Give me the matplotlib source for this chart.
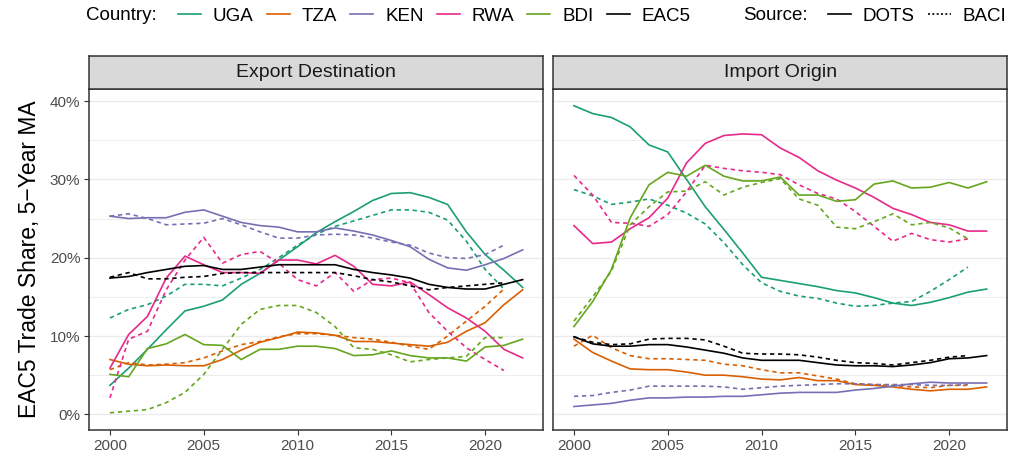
import numpy as np
import matplotlib.pyplot as plt
from matplotlib.lines import Line2D
from matplotlib.ticker import MultipleLocator, FuncFormatter

plt.rcParams['font.family'] = ['Liberation Sans', 'DejaVu Sans']

#%% data (share in %, 5-year moving average)
years_dots = np.arange(2000, 2023)
years_baci = np.arange(2000, 2022)

countries = ['UGA', 'TZA', 'KEN', 'RWA', 'BDI', 'EAC5']
colors = ['#1B9E77', '#D95F02', '#7570B3', '#E7298A', '#66A61E', '#000000']

# Export destination - DOTS
exp_dots_uga = [3.7, 5.9, 8.3, 10.8, 13.2, 13.8, 14.6, 16.6, 18.0, 19.7, 21.4, 23.2, 24.6, 25.9, 27.3, 28.2, 28.3, 27.7, 26.8, 23.3, 20.4, 18.4, 16.2]
exp_dots_tza = [7.0, 6.4, 6.2, 6.3, 6.2, 6.2, 7.0, 8.2, 9.2, 9.8, 10.5, 10.4, 10.1, 9.3, 9.3, 9.1, 8.9, 8.7, 9.2, 10.6, 11.7, 14.0, 15.9]
exp_dots_ken = [25.3, 25.0, 25.1, 25.1, 25.8, 26.1, 25.3, 24.5, 24.1, 23.9, 23.3, 23.3, 23.8, 23.4, 22.9, 22.2, 21.4, 19.8, 18.7, 18.4, 19.1, 19.9, 21.0]
exp_dots_rwa = [5.9, 10.2, 12.5, 17.4, 20.2, 19.1, 18.1, 18.1, 18.0, 19.7, 19.7, 19.2, 20.3, 18.9, 16.6, 16.4, 16.9, 15.3, 13.6, 12.3, 10.6, 8.3, 7.2]
exp_dots_bdi = [5.1, 4.8, 8.4, 9.0, 10.2, 8.9, 8.8, 7.0, 8.3, 8.3, 8.7, 8.7, 8.4, 7.5, 7.6, 8.1, 7.5, 7.2, 7.2, 6.8, 8.6, 8.8, 9.6]
exp_dots_eac = [17.4, 17.6, 18.1, 18.5, 18.9, 19.0, 18.5, 18.5, 18.8, 19.1, 19.1, 19.1, 19.1, 18.5, 18.1, 17.8, 17.4, 16.6, 16.2, 16.0, 16.0, 16.6, 17.2]

# Export destination - BACI
exp_baci_uga = [12.3, 13.4, 14.0, 15.1, 16.6, 16.6, 16.4, 17.4, 18.5, 20.0, 21.6, 23.0, 24.0, 24.7, 25.4, 26.1, 26.1, 25.8, 24.8, 22.1, 18.5, 16.0]
exp_baci_tza = [5.7, 6.6, 6.3, 6.4, 6.6, 7.2, 8.1, 8.9, 9.3, 9.9, 10.3, 10.3, 10.1, 9.8, 9.6, 9.2, 8.7, 8.3, 10.0, 11.9, 13.8, 16.0]
exp_baci_ken = [25.3, 25.6, 25.0, 24.2, 24.3, 24.4, 25.0, 24.2, 23.3, 22.5, 22.5, 22.9, 23.0, 22.9, 22.5, 22.0, 21.6, 20.6, 20.0, 19.9, 20.4, 21.6]
exp_baci_rwa = [2.1, 9.6, 10.6, 15.9, 19.7, 22.6, 19.3, 20.4, 20.8, 19.3, 17.2, 16.4, 18.1, 15.7, 17.2, 17.4, 16.8, 13.0, 10.6, 8.5, 7.0, 5.6]
exp_baci_bdi = [0.2, 0.4, 0.6, 1.5, 2.8, 5.1, 8.3, 11.5, 13.4, 13.9, 13.9, 13.0, 11.2, 8.5, 8.3, 7.6, 6.7, 7.0, 7.2, 7.4, 9.8, 9.8]
exp_baci_eac = [17.5, 18.1, 17.3, 17.3, 17.5, 17.6, 18.0, 18.1, 18.1, 18.1, 18.1, 18.1, 18.1, 17.7, 17.2, 16.9, 16.4, 15.9, 16.2, 16.4, 16.6, 16.8]

# Import origin - DOTS
imp_dots_uga = [39.4, 38.4, 37.9, 36.7, 34.4, 33.5, 30.0, 26.5, 23.6, 20.6, 17.5, 17.1, 16.7, 16.3, 15.8, 15.5, 14.9, 14.2, 13.9, 14.3, 14.9, 15.6, 16.0]
imp_dots_tza = [9.6, 7.9, 6.8, 5.8, 5.7, 5.7, 5.4, 5.0, 5.0, 4.8, 4.5, 4.4, 4.7, 4.3, 4.3, 3.8, 3.7, 3.5, 3.2, 3.0, 3.2, 3.2, 3.5]
imp_dots_ken = [1.0, 1.2, 1.4, 1.8, 2.1, 2.1, 2.2, 2.2, 2.3, 2.3, 2.5, 2.7, 2.8, 2.8, 2.8, 3.1, 3.3, 3.6, 3.9, 4.1, 4.0, 4.0, 4.0]
imp_dots_rwa = [24.1, 21.8, 22.0, 23.7, 25.1, 27.6, 32.1, 34.6, 35.6, 35.8, 35.7, 34.0, 32.8, 31.1, 29.9, 28.9, 27.7, 26.3, 25.5, 24.5, 24.2, 23.4, 23.4]
imp_dots_bdi = [11.2, 14.4, 18.5, 25.1, 29.3, 30.9, 30.4, 31.8, 30.4, 29.8, 29.8, 30.3, 28.0, 28.0, 27.2, 27.4, 29.4, 29.8, 28.9, 29.0, 29.6, 28.9, 29.7]
imp_dots_eac = [9.9, 9.0, 8.7, 8.7, 8.9, 8.9, 8.6, 8.2, 7.8, 7.2, 6.9, 6.9, 6.9, 6.6, 6.3, 6.2, 6.2, 6.1, 6.3, 6.6, 7.1, 7.2, 7.5]

# Import origin - BACI
imp_baci_uga = [28.7, 27.9, 26.8, 27.1, 27.5, 26.7, 25.7, 24.3, 21.9, 19.1, 16.8, 15.7, 15.1, 14.8, 14.2, 13.8, 13.9, 14.2, 14.4, 15.7, 17.2, 18.8]
imp_baci_tza = [8.7, 10.1, 8.5, 7.5, 7.1, 7.1, 7.0, 6.9, 6.4, 6.2, 5.7, 5.3, 5.3, 4.9, 4.5, 3.9, 3.8, 3.7, 3.5, 3.4, 3.7, 3.7]
imp_baci_ken = [2.3, 2.4, 2.8, 3.1, 3.6, 3.6, 3.6, 3.6, 3.5, 3.2, 3.4, 3.6, 3.7, 3.8, 3.9, 3.9, 3.8, 3.8, 3.8, 3.7, 3.7, 3.8]
imp_baci_rwa = [30.5, 28.0, 24.5, 24.4, 24.0, 25.5, 28.4, 31.8, 31.4, 31.1, 30.9, 30.6, 29.3, 28.2, 27.5, 25.9, 24.0, 22.1, 23.1, 22.3, 22.0, 22.4]
imp_baci_bdi = [11.9, 15.0, 18.3, 24.2, 26.5, 28.4, 28.5, 29.7, 28.0, 29.0, 29.6, 30.1, 27.5, 26.7, 23.9, 23.7, 24.6, 25.6, 24.2, 24.5, 23.8, 22.4]
imp_baci_eac = [9.9, 9.2, 8.9, 9.0, 9.6, 9.7, 9.7, 9.5, 8.7, 7.8, 7.7, 7.7, 7.6, 7.3, 6.9, 6.6, 6.5, 6.3, 6.6, 6.9, 7.3, 7.5]

panels = {
    'Export Destination': (
        [exp_dots_uga, exp_dots_tza, exp_dots_ken, exp_dots_rwa, exp_dots_bdi, exp_dots_eac],
        [exp_baci_uga, exp_baci_tza, exp_baci_ken, exp_baci_rwa, exp_baci_bdi, exp_baci_eac]),
    'Import Origin': (
        [imp_dots_uga, imp_dots_tza, imp_dots_ken, imp_dots_rwa, imp_dots_bdi, imp_dots_eac],
        [imp_baci_uga, imp_baci_tza, imp_baci_ken, imp_baci_rwa, imp_baci_bdi, imp_baci_eac]),
}

#%% figure
W, H = 1014, 455
fig = plt.figure(figsize=(W / 100, H / 100), dpi=100)

lefts = [89.3, 553.3]
pw = 454
top, bottom = 89.3, 430
strip_top = 56
dash = (2.6, 2.2)

for i, (title, (dots, baci)) in enumerate(panels.items()):
    ax = fig.add_axes([lefts[i] / W, (H - bottom) / H, pw / W, (bottom - top) / H])
    for c, col, yd, yb in zip(countries, colors, dots, baci):
        ax.plot(years_dots, yd, color=col, lw=1.2, solid_joinstyle='round')
        ax.plot(years_baci, yb, color=col, lw=1.2, linestyle=(0, dash))
    ax.set_xlim(1998.9, 2023.1)
    ax.set_ylim(-2.0, 41.5)
    ax.xaxis.set_major_locator(MultipleLocator(5))
    ax.yaxis.set_major_locator(MultipleLocator(10))
    ax.yaxis.set_minor_locator(MultipleLocator(5))
    ax.yaxis.set_major_formatter(FuncFormatter(lambda v, p: f'{v:.0f}%'))
    ax.grid(axis='y', which='major', color='#EBEBEB', lw=1.0)
    ax.grid(axis='y', which='minor', color='#EBEBEB', lw=0.6)
    ax.set_axisbelow(True)
    ax.tick_params(which='minor', length=0)
    ax.tick_params(which='major', length=3.5, width=0.8, color='#333333',
                   labelsize=11, labelcolor='#4D4D4D', pad=3)
    for s in ax.spines.values():
        s.set_color('#333333')
        s.set_linewidth(1.1)
    if i == 1:
        ax.tick_params(axis='y', left=False, labelleft=False)
    else:
        ax.set_ylabel('EAC5 Trade Share, 5\u2212Year MA', fontsize=16.5, labelpad=6)

    sax = fig.add_axes([lefts[i] / W, (H - top) / H, pw / W, (top - strip_top) / H])
    sax.set_facecolor('#D9D9D9')
    sax.set_xticks([])
    sax.set_yticks([])
    for s in sax.spines.values():
        s.set_color('#333333')
        s.set_linewidth(1.1)
    sax.text(0.5, 0.5, title, ha='center', va='center', fontsize=14,
             color='#1A1A1A', transform=sax.transAxes)

#%% legends
fs = 13.5
px = fs * 100 / 72
ly = 1 - 16 / H
legkw = dict(loc='center left', frameon=False, fontsize=fs,
             handlelength=23 / px, handletextpad=12 / px,
             columnspacing=13 / px, borderpad=0, borderaxespad=0)

country_handles = [Line2D([], [], color=col, lw=1.2) for col in colors]
fig.legend(country_handles, countries, bbox_to_anchor=(178 / W, ly), ncol=6, **legkw)
fig.text(86 / W, ly, 'Country:', ha='left', va='center', fontsize=fs)

source_handles = [Line2D([], [], color='black', lw=1.2),
                  Line2D([], [], color='black', lw=1.2, linestyle=(0, (1.2, 1.4)))]
fig.legend(source_handles, ['DOTS', 'BACI'], bbox_to_anchor=(828 / W, ly), ncol=2, **legkw)
fig.text(743 / W, ly, 'Source:', ha='left', va='center', fontsize=fs)

fig.savefig('out.png', dpi=100)
